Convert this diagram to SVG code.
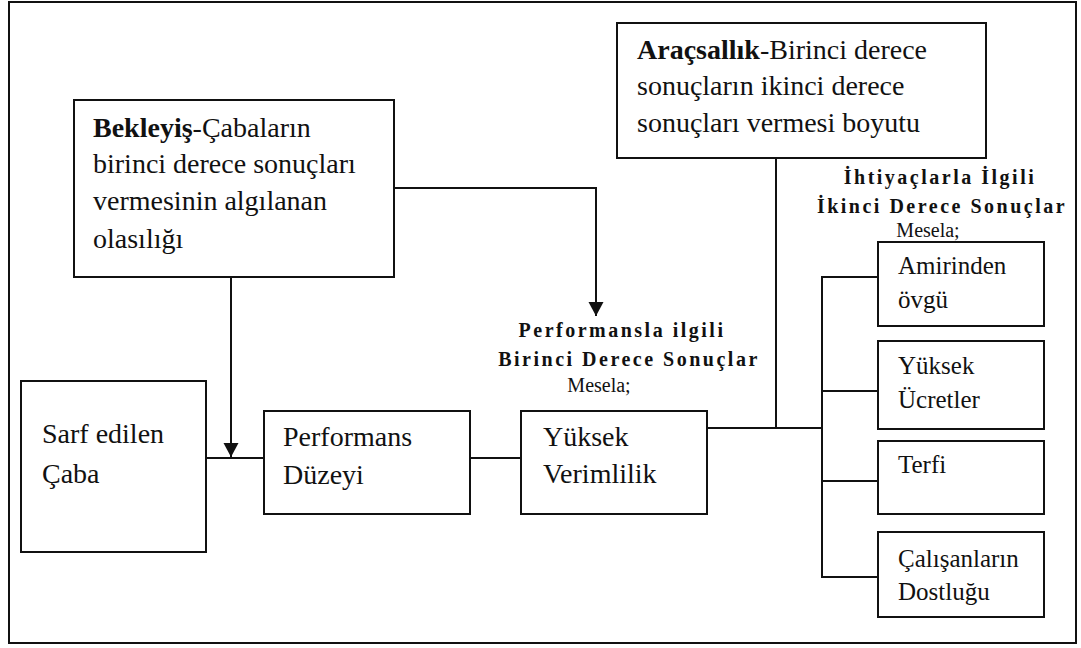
<svg xmlns="http://www.w3.org/2000/svg" width="1081" height="648" viewBox="0 0 1081 648">
<style>
.box{fill:#fff;stroke:#111;stroke-width:2}
.ln{fill:none;stroke:#111;stroke-width:2}
.t{font-family:"Liberation Serif","Times New Roman",serif;font-size:28px;fill:#111}
.s{font-family:"Liberation Serif","Times New Roman",serif;font-size:25px;fill:#111}
.b{font-weight:bold}
.lbl{font-family:"Liberation Serif","Times New Roman",serif;font-size:20px;font-weight:bold;letter-spacing:2.5px;fill:#111;text-anchor:middle}
.m{font-family:"Liberation Serif","Times New Roman",serif;font-size:20px;fill:#111;text-anchor:middle}
</style>
<defs>
<marker id="arr" markerUnits="userSpaceOnUse" markerWidth="16" markerHeight="16" viewBox="0 0 16 16" refX="14" refY="8" orient="auto">
<path d="M0,0.5 L14,8 L0,15.5 Z" fill="#111"/>
</marker>
</defs>
<rect id="frame" x="9" y="2" width="1067" height="641" fill="#fff" stroke="#111" stroke-width="2"/>
<g id="connectors">
<path class="ln" d="M394,188 H596 V316" marker-end="url(#arr)"/>
<path class="ln" d="M231,277 V457" marker-end="url(#arr)"/>
<path class="ln" d="M206,458 H264"/>
<path class="ln" d="M470,458 H521"/>
<path class="ln" d="M707,428 H822"/>
<path class="ln" d="M776,158 V428"/>
<path class="ln" d="M878,277 H822 V577 H878"/>
<path class="ln" d="M822,391 H878"/>
<path class="ln" d="M822,481 H878"/>
</g>
<g id="bekleyis">
<rect class="box" x="74" y="100" width="320" height="177"/>
<text class="t" x="93" y="137"><tspan class="b">Bekleyiş</tspan>-Çabaların</text>
<text class="t" x="93" y="173">birinci derece sonuçları</text>
<text class="t" x="93" y="210">vermesinin algılanan</text>
<text class="t" x="93" y="248">olasılığı</text>
</g>
<g id="aracsallik">
<rect class="box" x="617" y="23" width="369" height="135"/>
<text class="t" x="637" y="59"><tspan class="b">Araçsallık</tspan>-Birinci derece</text>
<text class="t" x="637" y="95">sonuçların ikinci derece</text>
<text class="t" x="637" y="132">sonuçları vermesi boyutu</text>
</g>
<g id="sarf">
<rect class="box" x="21" y="381" width="185" height="171"/>
<text class="t" x="42" y="443">Sarf edilen</text>
<text class="t" x="42" y="483">Çaba</text>
</g>
<g id="performans">
<rect class="box" x="264" y="411" width="206" height="103"/>
<text class="t" x="283" y="446">Performans</text>
<text class="t" x="283" y="484">Düzeyi</text>
</g>
<g id="verimlilik">
<rect class="box" x="521" y="411" width="186" height="103"/>
<text class="t" x="543" y="446">Yüksek</text>
<text class="t" x="543" y="483">Verimlilik</text>
</g>
<g id="label-birinci">
<text class="lbl" x="622" y="337">Performansla ilgili</text>
<text class="lbl" x="629" y="366">Birinci Derece Sonuçlar</text>
<text class="m" x="599" y="392">Mesela;</text>
</g>
<g id="label-ikinci">
<text class="lbl" x="940" y="184">İhtiyaçlarla İlgili</text>
<text class="lbl" x="942" y="213">İkinci Derece Sonuçlar</text>
<text class="m" x="928" y="237">Mesela;</text>
</g>
<g id="amirinden">
<rect class="box" x="878" y="242" width="166" height="84"/>
<text class="s" x="898" y="274">Amirinden</text>
<text class="s" x="898" y="308">övgü</text>
</g>
<g id="ucretler">
<rect class="box" x="878" y="341" width="166" height="88"/>
<text class="s" x="898" y="374">Yüksek</text>
<text class="s" x="898" y="408">Ücretler</text>
</g>
<g id="terfi">
<rect class="box" x="878" y="441" width="166" height="73"/>
<text class="s" x="898" y="473">Terfi</text>
</g>
<g id="dostlugu">
<rect class="box" x="878" y="532" width="166" height="85"/>
<text class="s" x="898" y="567">Çalışanların</text>
<text class="s" x="898" y="600">Dostluğu</text>
</g>
</svg>
